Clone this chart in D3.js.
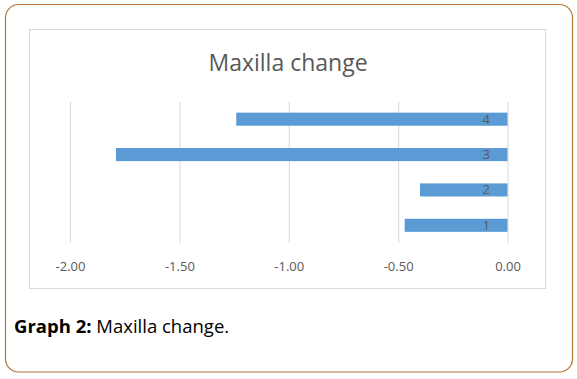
<!DOCTYPE html>
<html><head><meta charset="utf-8">
<script src="https://cdn.jsdelivr.net/npm/d3@7/dist/d3.min.js"></script>
<style>body{margin:0;background:#fff}svg{display:block}</style>
</head><body>
<script>
const categories = ["1", "2", "3", "4"];
const values = [-0.47, -0.40, -1.79, -1.24];
const tickValues = [-2.0, -1.5, -1.0, -0.5, 0.0];
const chartTitle = "Maxilla change";

const W = 577, H = 379;
const svg = d3.select("body").append("svg").attr("width", W).attr("height", H);

// outer rounded frame
svg.append("rect").attr("x", 5.5).attr("y", 4.5).attr("width", 567).attr("height", 367.5)
  .attr("rx", 13).attr("fill", "#fff").attr("stroke", "#b87333").attr("stroke-width", 1.2);

// inner chart area border
svg.append("rect").attr("x", 29.5).attr("y", 29.5).attr("width", 516).attr("height", 259)
  .attr("fill", "#fff").attr("stroke", "#d9d9d9").attr("stroke-width", 1);

const x = d3.scaleLinear().domain([-2, 0]).range([70, 507.5]);
const y = d3.scaleBand().domain(categories.slice().reverse()).range([101.5, 243]).paddingInner(0.63).paddingOuter(0.315);

// gridlines
svg.append("g").selectAll("line").data(tickValues).join("line")
  .attr("x1", d => x(d) + 0.5).attr("x2", d => x(d) + 0.5)
  .attr("y1", 101.5).attr("y2", 243)
  .attr("stroke", "#d9d9d9").attr("stroke-width", 1);

// bars
svg.append("g").selectAll("rect").data(categories).join("rect")
  .attr("x", (d, i) => x(values[i]))
  .attr("width", (d, i) => x(0) - x(values[i]))
  .attr("y", d => y(d))
  .attr("height", y.bandwidth())
  .attr("fill", "#5b9bd5");

// category labels
svg.append("g").selectAll("text").data(categories).join("text")
  .attr("x", 490).attr("y", d => y(d) + y.bandwidth() / 2)
  .attr("dy", "0.35em").attr("text-anchor", "end")
  .attr("font-family", "Open Sans, sans-serif").attr("font-size", 13)
  .attr("fill", "#595959").text(d => d);

// x axis tick labels
const fmt = d3.format(".2f");
const xAxis = d3.axisBottom(x).tickValues(tickValues).tickFormat(d => fmt(d).replace("\u2212", "-")).tickSize(0).tickPadding(0);
const gx = svg.append("g").attr("transform", "translate(0,262)").call(xAxis);
gx.select(".domain").remove();
gx.selectAll("text").attr("font-family", "Open Sans, sans-serif").attr("font-size", 13).attr("fill", "#595959").attr("dy", "0.35em").attr("y", 4);

// title
svg.append("text").attr("x", 288).attr("y", 71).attr("text-anchor", "middle")
  .attr("font-family", "Open Sans, sans-serif").attr("font-size", 23).attr("fill", "#595959")
  .text(chartTitle);

// caption
const cap = svg.append("text").attr("x", 14).attr("y", 333)
  .attr("font-family", "Open Sans, sans-serif").attr("font-size", 18.5).attr("fill", "#000");
cap.append("tspan").attr("font-weight", "bold").text("Graph 2:");
cap.append("tspan").text(" Maxilla change.");
</script>
</body></html>
